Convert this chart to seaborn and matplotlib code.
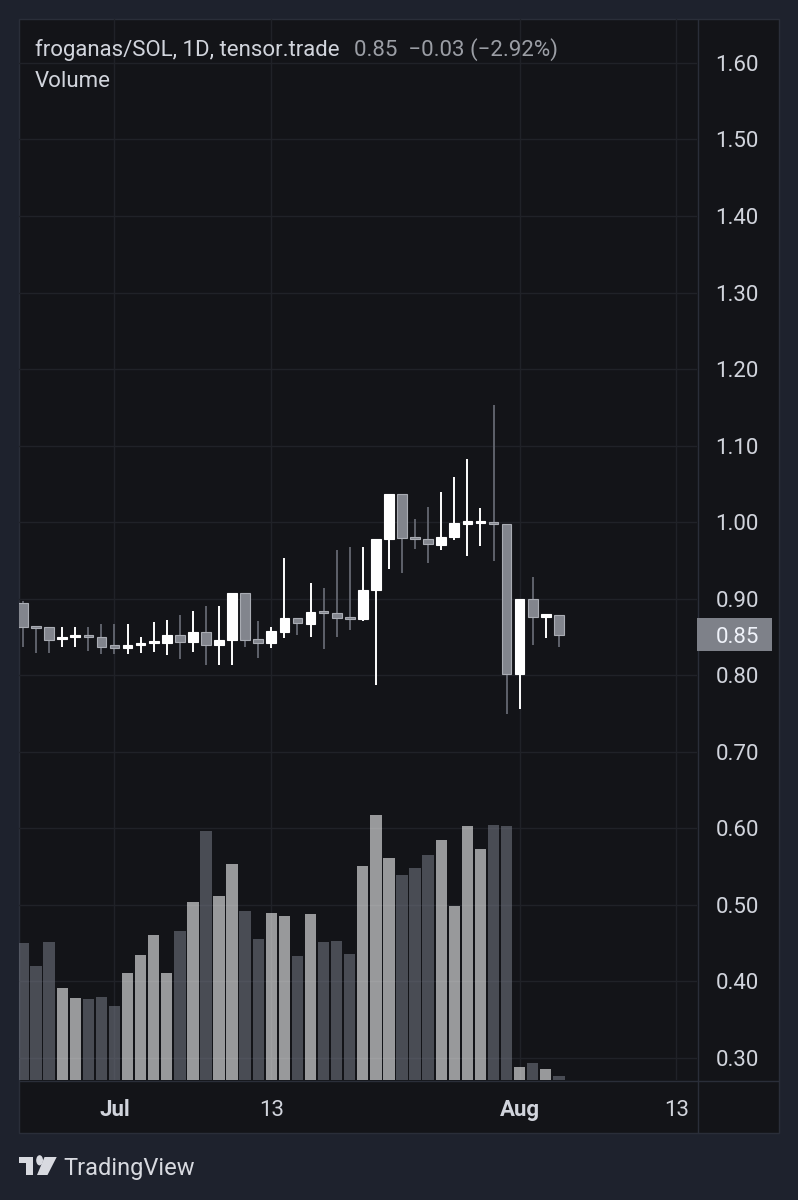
import numpy as np
import pandas as pd
import matplotlib
matplotlib.use("Agg")
import matplotlib.pyplot as plt
import matplotlib.transforms as mtransforms
from matplotlib.patches import Rectangle, Circle, Polygon, FancyBboxPatch
from matplotlib.lines import Line2D
import seaborn as sns

# ---------------- data ----------------
dates = pd.date_range("2024-06-24", "2024-08-04", freq="D")

opens = [0.895, 0.864, 0.863, 0.848, 0.850, 0.853, 0.850, 0.838, 0.836, 0.840,
         0.842, 0.842, 0.853, 0.843, 0.856, 0.840, 0.846, 0.907, 0.848, 0.842,
         0.857, 0.875, 0.867, 0.884, 0.881, 0.875, 0.873, 0.912, 0.978, 1.037,
         0.980, 0.978, 0.970, 0.980, 0.999, 1.000, 1.000, 0.997, 0.802, 0.899,
         0.877, 0.879]
highs = [0.897, 0.864, 0.863, 0.863, 0.863, 0.863, 0.867, 0.867, 0.867, 0.850,
         0.869, 0.872, 0.879, 0.884, 0.890, 0.890, 0.907, 0.907, 0.871, 0.863,
         0.953, 0.875, 0.920, 0.914, 0.964, 0.967, 0.967, 0.978, 1.037, 1.037,
         1.004, 1.020, 1.039, 1.059, 1.082, 1.019, 1.153, 0.997, 0.899, 0.928,
         0.879, 0.879]
lows = [0.837, 0.829, 0.829, 0.837, 0.837, 0.832, 0.828, 0.828, 0.828, 0.829,
        0.830, 0.827, 0.821, 0.830, 0.813, 0.813, 0.813, 0.837, 0.823, 0.836,
        0.849, 0.853, 0.850, 0.834, 0.850, 0.859, 0.871, 0.787, 0.939, 0.934,
        0.965, 0.947, 0.963, 0.977, 0.956, 0.969, 0.949, 0.749, 0.756, 0.840,
        0.849, 0.837]
closes = [0.863, 0.863, 0.846, 0.850, 0.853, 0.850, 0.837, 0.837, 0.840, 0.842,
          0.844, 0.853, 0.844, 0.856, 0.840, 0.846, 0.907, 0.846, 0.842, 0.858,
          0.875, 0.868, 0.882, 0.882, 0.875, 0.874, 0.912, 0.978, 1.037, 0.979,
          0.979, 0.971, 0.980, 0.999, 1.000, 1.001, 0.997, 0.802, 0.899, 0.876,
          0.879, 0.853]
volume = [136.7, 114.0, 138.3, 92.0, 82.0, 81.0, 82.7, 74.3, 107.3, 125.3,
          145.3, 106.7, 148.7, 177.7, 248.7, 184.3, 216.0, 169.3, 140.7, 166.7,
          164.0, 124.3, 165.7, 137.7, 139.3, 126.3, 214.0, 264.7, 221.7, 205.0,
          211.7, 225.0, 240.0, 174.3, 254.3, 231.0, 255.3, 254.0, 13.0, 17.0,
          10.7, 3.7]

tick_dates = pd.to_datetime(["2024-07-01", "2024-07-13", "2024-08-01", "2024-08-13"])
tick_labels = ["Jul", "13", "Aug", "13"]
tick_bold = [True, False, True, False]
price_ticks = [0.30, 0.40, 0.50, 0.60, 0.70, 0.80, 0.90, 1.00, 1.10, 1.20, 1.30, 1.40, 1.50, 1.60]

title = "froganas/SOL, 1D, tensor.trade"
values_text = "0.85  \u22120.03 (\u22122.92%)"
last_label = "0.85"

# ---------------- styling ----------------
OUTER = "#1e222d"
PANEL = "#131418"
BORDER = "#2a2e39"
GRID = "#202228"
TXT = "#d1d4dc"
TXT2 = "#9b9ea5"
UP_BODY = "#ffffff"
DN_BODY = "#82858d"
DN_EDGE = "#a9acb3"
DN_WICK = "#5f626b"
FS = 16

sns.set_theme(style="dark")
plt.rcParams["font.family"] = ["Roboto", "DejaVu Sans"]

W, H = 798, 1200
fig = plt.figure(figsize=(W / 100, H / 100), dpi=100, facecolor=OUTER)


def fx(px):
    return px / W


def fy(py):
    return 1 - py / H


# chart panel background (behind axes)
fig.patches.append(Rectangle((fx(19), fy(1133)), fx(779) - fx(19), fy(19) - fy(1133),
                             transform=fig.transFigure, facecolor=PANEL,
                             edgecolor=BORDER, lw=1.0, zorder=-5))
# pane borders (under the axes so the price label covers them)
fig.lines.append(Line2D([fx(697.5), fx(697.5)], [fy(19), fy(1133)], transform=fig.transFigure,
                        color=BORDER, lw=1.0, zorder=-4))
fig.lines.append(Line2D([fx(19), fx(779)], [fy(1080.5), fy(1080.5)], transform=fig.transFigure,
                        color=BORDER, lw=1.0, zorder=-4))

ax = fig.add_axes([fx(19), fy(1080), fx(697) - fx(19), fy(19) - fy(1080)])
ax.set_facecolor("none")
ax.set_zorder(1)
for s in ax.spines.values():
    s.set_visible(False)

day = np.asarray((dates - dates[0]).days, dtype=float)
tick_x = np.asarray((tick_dates - dates[0]).days, dtype=float)
o = np.array(opens); h = np.array(highs); l = np.array(lows); c = np.array(closes)
up = c >= o

# volume on twin axis (seaborn), drawn in the lower part of the pane
ax2 = ax.twinx()
ax2.set_zorder(2)
vdf = pd.DataFrame({"day": day, "volume": volume,
                    "dir": np.where(up, "up", "down")})
sns.barplot(data=vdf, x="day", y="volume", hue="dir",
            palette={"up": "#ffffff", "down": "#737883"},
            native_scale=True, dodge=False, width=0.87, errorbar=None,
            saturation=1, legend=False, alpha=0.57, linewidth=0, ax=ax2)
ax2.set_ylim(0, 1061)
ax2.set_xlim(-0.306, 51.57)
ax2.set_yticks([])
ax2.set_xticks([])
ax2.set_xlabel("")
ax2.set_ylabel("")
ax2.grid(False)
for s in ax2.spines.values():
    s.set_visible(False)
ax2.patch.set_visible(False)

# candles
wick_cols = np.where(up, UP_BODY, DN_WICK)
ax.vlines(day, l, h, colors=list(wick_cols), lw=1.4, zorder=2)
small = np.abs(c - o) < 0.0028
body_h = np.where(small, 0.0028, np.abs(c - o))
body_bottom = np.where(small, (o + c) / 2 - 0.0014, np.minimum(o, c))
ax.bar(day, body_h, bottom=body_bottom, width=0.74,
       color=list(np.where(up, UP_BODY, DN_BODY)),
       edgecolor=list(np.where(up, UP_BODY, DN_EDGE)), lw=0.8, zorder=3)

ax.set_xlim(-0.306, 51.57)
ax.set_ylim(0.2712, 1.6574)

ax.yaxis.tick_right()
ax.yaxis.set_label_position("right")
ax.set_yticks(price_ticks)
ax.set_yticklabels([f"{v:.2f}" for v in price_ticks])
ax.tick_params(axis="y", length=0, pad=13.3, labelsize=FS, labelcolor=TXT,
               left=False, labelleft=False, right=True, labelright=True)
ax.set_xticks(tick_x)
ax.tick_params(axis="x", length=0, labelbottom=False)
ax.grid(True, color=GRID, lw=1.0)
ax.set_axisbelow(True)

trans = mtransforms.blended_transform_factory(ax.transData, ax.transAxes)
for tx, lab, b in zip(tick_x, tick_labels, tick_bold):
    ax.text(tx, -(1116 - 1080) / 1061, lab, transform=trans, ha="center", va="baseline",
            fontsize=FS, color=TXT, fontweight="bold" if b else "normal", clip_on=False)

# last price label
btrans = mtransforms.blended_transform_factory(ax.transAxes, ax.transData)
last = closes[-1]
ax.add_patch(Rectangle((1.0, last - 16.5 / 765.4), (772 - 697) / 678, 33 / 765.4,
                       transform=btrans, facecolor="#7e8189", edgecolor="none",
                       clip_on=False, zorder=10))
ax.text(1 + 19 / 678, last, last_label, transform=btrans, ha="left", va="center_baseline",
        fontsize=FS, color="#f0f3fa", zorder=11, clip_on=False)

# header
fig.text(fx(35), fy(56), title, color=TXT, fontsize=FS, va="baseline")
fig.text(fx(354), fy(56), values_text, color=TXT2, fontsize=FS, va="baseline")
fig.text(fx(35), fy(87), "Volume", color=TXT, fontsize=FS, va="baseline")

# TradingView logo
LOGO = "#d8dae0"


def px_rect(x0, y0, x1, y1):
    return Rectangle((fx(x0), fy(y1)), fx(x1) - fx(x0), fy(y0) - fy(y1),
                     transform=fig.transFigure, facecolor=LOGO, edgecolor="none")


fig.patches.append(px_rect(18.5, 1157, 33.3, 1163))
fig.patches.append(px_rect(26.3, 1157, 33.3, 1175))
fig.patches.append(Circle((fx(39.6), fy(1160.3)), 3.4 / W, transform=fig.transFigure,
                          facecolor=LOGO, edgecolor="none"))
fig.patches.append(Polygon([(fx(44.5), fy(1157)), (fx(56.7), fy(1157)),
                            (fx(47.5), fy(1175)), (fx(37.0), fy(1175))],
                           closed=True, transform=fig.transFigure, facecolor=LOGO,
                           edgecolor="none"))
fig.text(fx(63), fy(1175), "TradingView", color=LOGO, fontsize=17, va="baseline")

fig.savefig("out.png", dpi=100, facecolor=OUTER)
